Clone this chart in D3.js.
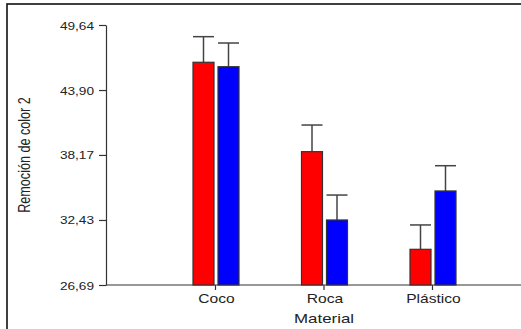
<!DOCTYPE html>
<html><head><meta charset="utf-8">
<script src="https://cdn.jsdelivr.net/npm/d3@7"></script>
<style>body{margin:0;background:#fff;overflow:hidden}</style>
</head><body>
<svg id="c" width="521" height="329"></svg>
<script>
const categories = ["Coco", "Roca", "Plástico"];
const seriesNames = ["Serie 1", "Serie 2"];
const redValues  = [46.35, 38.46, 29.84];
const redErrors  = [2.26, 2.35, 2.15];
const blueValues = [45.96, 32.43, 34.99];
const blueErrors = [2.09, 2.20, 2.23];
const yTicks = [26.69, 32.43, 38.17, 43.90, 49.64];
const colors = ["#ff0000", "#0000ff"];

const svg = d3.select("#c");
const font = "Liberation Sans, Arial, sans-serif";

// frame
svg.append("rect").attr("x",7).attr("y",4).attr("width",700).attr("height",500)
  .attr("fill","none").attr("stroke","#111").attr("stroke-width",1.6);

const y = d3.scaleLinear().domain([26.69, 49.64]).range([285, 25]);
const x = d3.scalePoint().domain(categories).range([216, 433]);
const axisLeftX = 106;

// y axis
const ya = svg.append("g").attr("transform",`translate(${axisLeftX},0)`)
  .call(d3.axisLeft(y).tickValues(yTicks).tickSize(7).tickSizeOuter(0)
    .tickFormat(d => d3.format(".2f")(d).replace(".", ",")));
ya.select(".domain").attr("stroke","#333").attr("stroke-width",1.2);
ya.selectAll(".tick line").attr("stroke","#333").attr("stroke-width",1.2);
ya.selectAll(".tick text").attr("x",null).attr("dy",null)
  .attr("transform","translate(-12,4) scale(1.3,1)")
  .attr("text-anchor","end").attr("font-family",font).attr("font-size",10.5).attr("fill","#222");

// x axis line
svg.append("line").attr("x1",axisLeftX).attr("x2",521).attr("y1",285).attr("y2",285)
  .attr("stroke","#333").attr("stroke-width",1.2);
const xa = svg.append("g").attr("transform","translate(-1,285)")
  .call(d3.axisBottom(x).tickSize(5).tickSizeOuter(0));
xa.select(".domain").remove();
xa.selectAll(".tick line").attr("stroke","#333").attr("stroke-width",1.2);
xa.selectAll(".tick text").attr("y",null).attr("dy",null)
  .attr("transform","translate(1,18) scale(1.3,1)")
  .attr("font-family",font).attr("font-size",12).attr("fill","#222");

// bars
const series = [
  {vals: redValues, errs: redErrors, off: -23, color: colors[0]},
  {vals: blueValues, errs: blueErrors, off: 2, color: colors[1]}
];
const bw = 21;
series.forEach(s => {
  const g = svg.append("g");
  categories.forEach((c, i) => {
    const x0 = x(c) + s.off;
    const top = y(s.vals[i]);
    const cap = y(s.vals[i] + s.errs[i]);
    g.append("line").attr("x1", x0 + bw/2).attr("x2", x0 + bw/2)
      .attr("y1", top).attr("y2", cap).attr("stroke","#444").attr("stroke-width",1.5);
    g.append("line").attr("x1", x0).attr("x2", x0 + bw)
      .attr("y1", cap).attr("y2", cap).attr("stroke","#444").attr("stroke-width",1.5);
    g.append("rect").attr("x", x0).attr("y", top).attr("width", bw)
      .attr("height", y(26.69) - top).attr("fill", s.color)
      .attr("stroke","#333").attr("stroke-width",1.2);
  });
});

// axis titles
svg.append("text").attr("transform","translate(324,323) scale(1.3,1)")
  .attr("text-anchor","middle").attr("font-family",font).attr("font-size",13)
  .attr("fill","#222").text("Material");
svg.append("text").attr("transform","translate(24,155) scale(1.3,1) rotate(-90)")
  .attr("text-anchor","middle").attr("dominant-baseline","central")
  .attr("font-family",font).attr("font-size",12.6).attr("fill","#222")
  .text("Remoción de color 2");
</script>
</body></html>
